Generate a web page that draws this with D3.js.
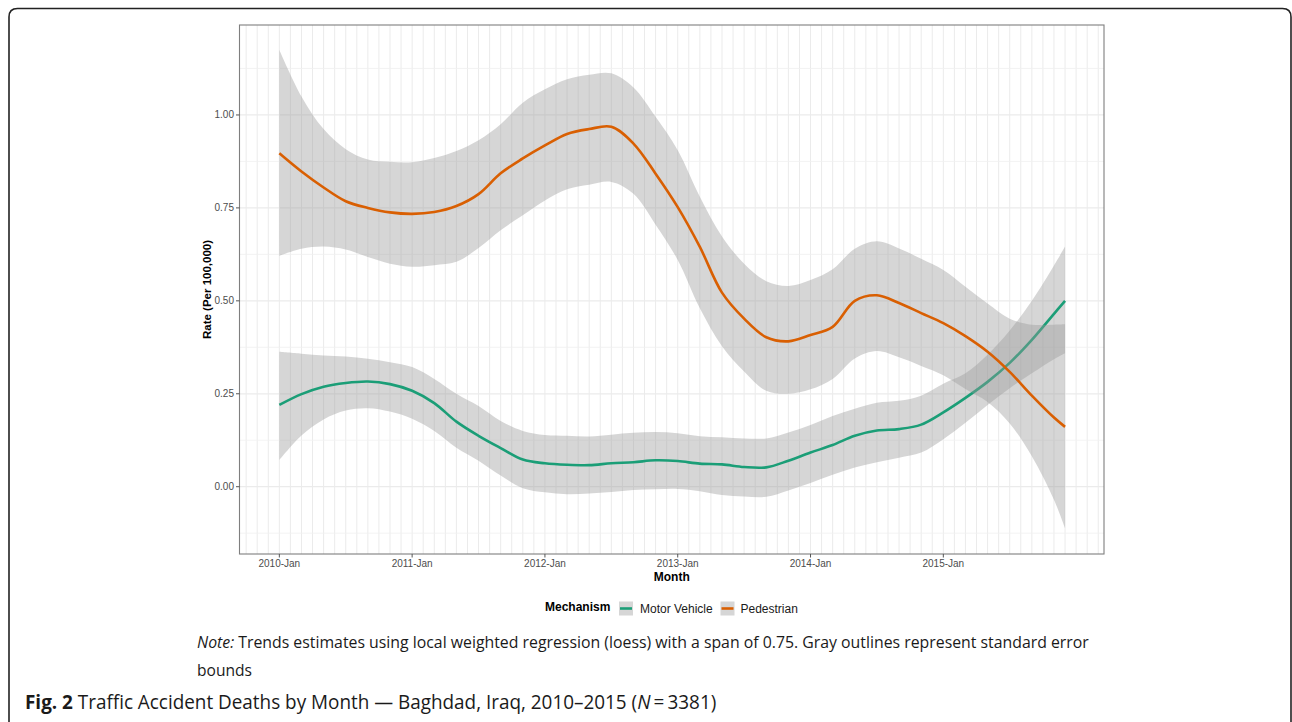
<!DOCTYPE html>
<html>
<head>
<meta charset="utf-8">
<title>Traffic Accident Deaths by Month</title>
<script src="https://cdnjs.cloudflare.com/ajax/libs/d3/7.8.5/d3.min.js"></script>
<style>
  body { margin: 0; background: #fff; }
  svg { display: block; }
  .tick-label { font-family: "Liberation Sans", Arial, sans-serif; font-size: 10px; fill: #4d4d4d; }
  .axis-title { font-family: "Liberation Sans", Arial, sans-serif; font-size: 12px; font-weight: bold; fill: #000; }
  .legend-text { font-family: "Liberation Sans", Arial, sans-serif; font-size: 12px; fill: #1a1a1a; }
  .caption { font-family: "Open Sans", "Noto Sans", sans-serif; fill: #1a1a1a; }
</style>
</head>
<body>
<div id="chart"></div>
<script>
// month index (0 = 2010-Jan) for each smoothed sample
const months = [0, 2, 4, 6, 8, 10, 12, 14, 16, 18, 20, 22, 24, 26, 28, 30, 32, 34,
                36, 38, 40, 42, 44, 46, 48, 50, 52, 54, 56, 58, 60, 62, 64, 66, 68, 70, 71];

// Pedestrian loess fit and standard error bounds
const pedFit = [0.897, 0.848, 0.805, 0.768, 0.750, 0.738, 0.734, 0.739, 0.755, 0.787, 0.843, 0.883,
                0.918, 0.949, 0.962, 0.968, 0.923, 0.842, 0.752, 0.645, 0.522, 0.452, 0.402, 0.391,
                0.408, 0.430, 0.500, 0.515, 0.494, 0.467, 0.440, 0.405, 0.363, 0.309, 0.245, 0.186, 0.161];
const pedHi  = [1.175, 1.050, 0.962, 0.908, 0.880, 0.874, 0.873, 0.884, 0.903, 0.932, 0.975, 1.033,
                1.069, 1.096, 1.108, 1.112, 1.074, 0.995, 0.905, 0.780, 0.673, 0.600, 0.553, 0.540,
                0.556, 0.585, 0.640, 0.660, 0.641, 0.613, 0.583, 0.538, 0.493, 0.452, 0.436, 0.436, 0.437];
const pedLo  = [0.621, 0.640, 0.646, 0.638, 0.618, 0.600, 0.592, 0.596, 0.605, 0.642, 0.690, 0.730,
                0.770, 0.800, 0.812, 0.820, 0.788, 0.705, 0.610, 0.480, 0.378, 0.310, 0.258, 0.250,
                0.262, 0.290, 0.345, 0.365, 0.348, 0.325, 0.300, 0.263, 0.228, 0.170, 0.082, -0.035, -0.112];

// Motor Vehicle loess fit and standard error bounds
const mvFit = [0.220, 0.249, 0.269, 0.279, 0.283, 0.276, 0.258, 0.225, 0.175, 0.137, 0.104, 0.073,
               0.063, 0.059, 0.058, 0.063, 0.066, 0.071, 0.069, 0.062, 0.060, 0.053, 0.052, 0.070,
               0.092, 0.112, 0.137, 0.151, 0.155, 0.167, 0.200, 0.239, 0.282, 0.333, 0.395, 0.465, 0.500];
const mvHi  = [0.363, 0.358, 0.353, 0.350, 0.344, 0.335, 0.322, 0.290, 0.250, 0.217, 0.177, 0.150,
               0.139, 0.137, 0.135, 0.140, 0.145, 0.147, 0.144, 0.136, 0.133, 0.130, 0.130, 0.146,
               0.166, 0.190, 0.210, 0.226, 0.231, 0.245, 0.277, 0.305, 0.355, 0.420, 0.500, 0.595, 0.646];
const mvLo  = [0.072, 0.138, 0.181, 0.205, 0.211, 0.202, 0.183, 0.150, 0.105, 0.070, 0.030, -0.004,
               -0.015, -0.020, -0.018, -0.014, -0.009, -0.007, -0.006, -0.012, -0.022, -0.026, -0.027, -0.010,
               0.010, 0.032, 0.052, 0.066, 0.078, 0.092, 0.128, 0.172, 0.220, 0.265, 0.305, 0.343, 0.359];

// axis ticks
const xTickMonths = [0, 12, 24, 36, 48, 60];
const xTickLabels = ["2010-Jan", "2011-Jan", "2012-Jan", "2013-Jan", "2014-Jan", "2015-Jan"];
const yTicks = [0, 0.25, 0.5, 0.75, 1.0];
const yMinor = [-0.125, 0.125, 0.375, 0.625, 0.875, 1.125];

const seriesNames = ["Motor Vehicle", "Pedestrian"];
const seriesColors = ["#1b9e77", "#d95f02"];

const svgWidth = 1292, svgHeight = 722;
const panel = {left: 239.5, right: 1104, top: 25, bottom: 554};

const svg = d3.select("#chart").append("svg")
  .attr("width", svgWidth)
  .attr("height", svgHeight);

// outer rounded frame (open at the bottom)
svg.append("path")
  .attr("d", "M9,722 L9,17 Q9,8.5 17.5,8.5 L1282.5,8.5 Q1291,8.5 1291,17 L1291,722")
  .attr("fill", "none")
  .attr("stroke", "#222")
  .attr("stroke-width", 1.6);

const x = d3.scaleLinear().domain([-3.6, 74.52]).range([panel.left, panel.right]);
const y = d3.scaleLinear().domain([-0.181, 1.242]).range([panel.bottom, panel.top]);

const plot = svg.append("g");

// panel background
plot.append("rect")
  .attr("x", panel.left).attr("y", panel.top)
  .attr("width", panel.right - panel.left)
  .attr("height", panel.bottom - panel.top)
  .attr("fill", "#fff");

// grid: vertical line every month
const gridMonths = d3.range(Math.ceil(x.domain()[0]), Math.floor(x.domain()[1]) + 1);
plot.selectAll(".vgrid").data(gridMonths).enter().append("line")
  .attr("class", "vgrid")
  .attr("x1", d => x(d)).attr("x2", d => x(d))
  .attr("y1", panel.top).attr("y2", panel.bottom)
  .attr("stroke", "#ebebeb").attr("stroke-width", 1);

plot.selectAll(".hminor").data(yMinor).enter().append("line")
  .attr("x1", panel.left).attr("x2", panel.right)
  .attr("y1", d => y(d)).attr("y2", d => y(d))
  .attr("stroke", "#f0f0f0").attr("stroke-width", 0.8);

plot.selectAll(".hmajor").data(yTicks).enter().append("line")
  .attr("x1", panel.left).attr("x2", panel.right)
  .attr("y1", d => y(d)).attr("y2", d => y(d))
  .attr("stroke", "#ebebeb").attr("stroke-width", 1.2);

// ribbons and lines, Motor Vehicle first then Pedestrian (ggplot draw order)
const series = [
  {fit: mvFit, lo: mvLo, hi: mvHi},
  {fit: pedFit, lo: pedLo, hi: pedHi}
];

const area = d3.area()
  .x(d => x(d.m)).y0(d => y(d.lo)).y1(d => y(d.hi))
  .curve(d3.curveCatmullRom.alpha(0.5));
const line = d3.line()
  .x(d => x(d.m)).y(d => y(d.v))
  .curve(d3.curveCatmullRom.alpha(0.5));

series.forEach((s, i) => {
  const pts = months.map((m, j) => ({m: m, v: s.fit[j], lo: s.lo[j], hi: s.hi[j]}));
  plot.append("path")
    .datum(pts)
    .attr("d", area)
    .attr("fill", "#999999")
    .attr("fill-opacity", 0.4);
  plot.append("path")
    .datum(pts)
    .attr("d", line)
    .attr("fill", "none")
    .attr("stroke", seriesColors[i])
    .attr("stroke-width", 2.6)
    .attr("stroke-linejoin", "round");
});

// panel border
plot.append("rect")
  .attr("x", panel.left).attr("y", panel.top)
  .attr("width", panel.right - panel.left)
  .attr("height", panel.bottom - panel.top)
  .attr("fill", "none")
  .attr("stroke", "#7f7f7f")
  .attr("stroke-width", 1.1);

// x axis ticks and labels
const xAxis = svg.append("g");
xTickMonths.forEach((m, i) => {
  xAxis.append("line")
    .attr("x1", x(m)).attr("x2", x(m))
    .attr("y1", panel.bottom).attr("y2", panel.bottom + 3.5)
    .attr("stroke", "#555").attr("stroke-width", 1);
  xAxis.append("text")
    .attr("class", "tick-label")
    .attr("x", x(m)).attr("y", panel.bottom + 13)
    .attr("text-anchor", "middle")
    .text(xTickLabels[i]);
});

// y axis ticks and labels
const yAxis = svg.append("g");
yTicks.forEach(v => {
  yAxis.append("line")
    .attr("x1", panel.left - 3.5).attr("x2", panel.left)
    .attr("y1", y(v)).attr("y2", y(v))
    .attr("stroke", "#555").attr("stroke-width", 1);
  yAxis.append("text")
    .attr("class", "tick-label")
    .attr("x", panel.left - 5.5).attr("y", y(v) + 3.5)
    .attr("text-anchor", "end")
    .text(d3.format(".2f")(v));
});

// axis titles
svg.append("text")
  .attr("class", "axis-title")
  .attr("x", (panel.left + panel.right) / 2).attr("y", 581)
  .attr("text-anchor", "middle")
  .text("Month");

svg.append("text")
  .attr("class", "axis-title")
  .style("font-size", "11.5px")
  .attr("transform", `translate(211, ${(panel.top + panel.bottom) / 2}) rotate(-90)`)
  .attr("text-anchor", "middle")
  .text("Rate (Per 100,000)");

// legend
const legend = svg.append("g");
legend.append("text")
  .attr("class", "axis-title")
  .attr("x", 545).attr("y", 611)
  .text("Mechanism");

const keyX = [619, 720.5];
const labelX = [640, 740.5];
seriesNames.forEach((name, i) => {
  legend.append("rect")
    .attr("x", keyX[i]).attr("y", 601.5)
    .attr("width", 14).attr("height", 14)
    .attr("fill", "#999999").attr("fill-opacity", 0.4);
  legend.append("line")
    .attr("x1", keyX[i] + 1).attr("x2", keyX[i] + 13)
    .attr("y1", 608.5).attr("y2", 608.5)
    .attr("stroke", seriesColors[i]).attr("stroke-width", 2.6);
  legend.append("text")
    .attr("class", "legend-text")
    .attr("x", labelX[i]).attr("y", 612.5)
    .text(name);
});

// captions, squeezed horizontally to the condensed width of the original
function fitWidth(sel, x0, baseline, targetWidth) {
  const w = sel.node().getComputedTextLength();
  sel.attr("transform", `translate(${x0}, ${baseline}) scale(${targetWidth / w}, 1)`);
}

const note1 = svg.append("text").attr("class", "caption").style("font-size", "15.5px");
note1.append("tspan").style("font-style", "italic").text("Note:");
note1.append("tspan").text(" Trends estimates using local weighted regression (loess) with a span of 0.75. Gray outlines represent standard error");
fitWidth(note1, 197, 648, 893);

const note2 = svg.append("text").attr("class", "caption").style("font-size", "15.5px").text("bounds");
fitWidth(note2, 197, 676, 55);

const fig = svg.append("text").attr("class", "caption").style("font-size", "19.5px");
fig.append("tspan").style("font-weight", "bold").text("Fig. 2");
fig.append("tspan").text(" Traffic Accident Deaths by Month \u2014 Baghdad, Iraq, 2010\u20132015 (");
fig.append("tspan").style("font-style", "italic").text("N");
fig.append("tspan").text("\u2009=\u20093381)");
fitWidth(fig, 25, 709, 692);
</script>
</body>
</html>
